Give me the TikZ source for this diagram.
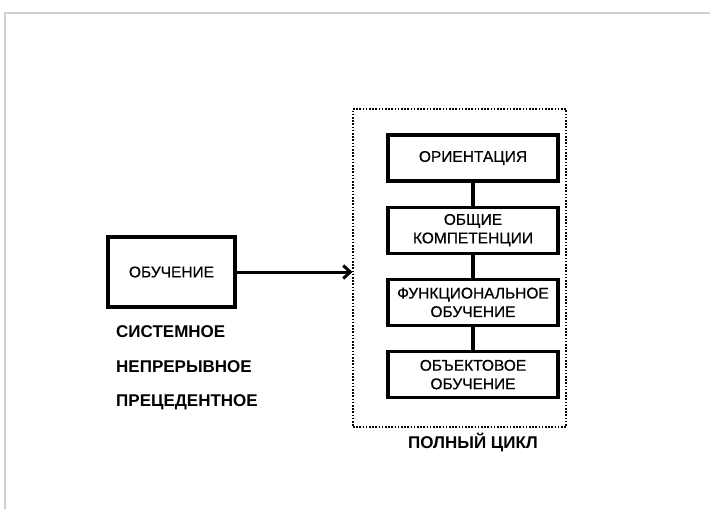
\documentclass[tikz,border=0pt]{standalone}
\usepackage{fontspec}
\setmainfont{Liberation Sans}
\newfontfamily\stagefont[FakeBold=0.6]{Liberation Sans}
\usetikzlibrary{positioning,arrows.meta}

\begin{document}
\begin{tikzpicture}[x=1pt,y=-1pt,
		stage/.style={draw,line width=3.2pt,minimum width=170pt,minimum height=46pt,align=center,inner sep=2pt,font=\stagefont\fontsize{15.5}{18.5}\selectfont},
		label/.style={font=\fontsize{17}{20}\selectfont\bfseries,inner sep=0pt}]
				%\def\gap{23pt}
				\useasboundingbox (0,0) rectangle (710,509);
				
				% frame of the slide
				\draw[black!18,line width=2pt] (710,13) -- (5,13) -- (5,509);
				
				\node[draw,line width=1.1pt,dash pattern=on 1.6pt off 1.6pt,minimum width=213pt,minimum height=318pt] (cycle) at (459.5,268) {};
				
				\node[stage] (orient) at (473,158) {ОРИЕНТАЦИЯ};
				\node[stage,below=23pt of orient] (common) {ОБЩИЕ\\КОМПЕТЕНЦИИ};
				\node[stage,below=23pt of common] (func) {ФУНКЦИОНАЛЬНОЕ\\ОБУЧЕНИЕ};
				\node[stage,below=23pt of func] (object) {ОБЪЕКТОВОЕ\\ОБУЧЕНИЕ};
				
				\draw[line width=3.2pt] (orient) -- (common);
				\draw[line width=3.2pt] (common) -- (func);
				\draw[line width=3.2pt] (func) -- (object);
				
				\node[stage,minimum width=127pt,minimum height=70pt] (learn) at (171.5,272) {ОБУЧЕНИЕ};
				\draw[line width=3pt,-{Straight Barb[length=7pt,width=13pt]}] (learn) -- (learn -| cycle.west);
				
				\node[label,anchor=west] (system) at (116,332) {СИСТЕМНОЕ};
				\node[label,anchor=west] (contin) at (116,367) {НЕПРЕРЫВНОЕ};
				\node[label,anchor=west] (preced) at (116,402) {ПРЕЦЕДЕНТНОЕ};
				\node[label] (full) at (473,442) {ПОЛНЫЙ ЦИКЛ};
			\end{tikzpicture}
\end{document}
